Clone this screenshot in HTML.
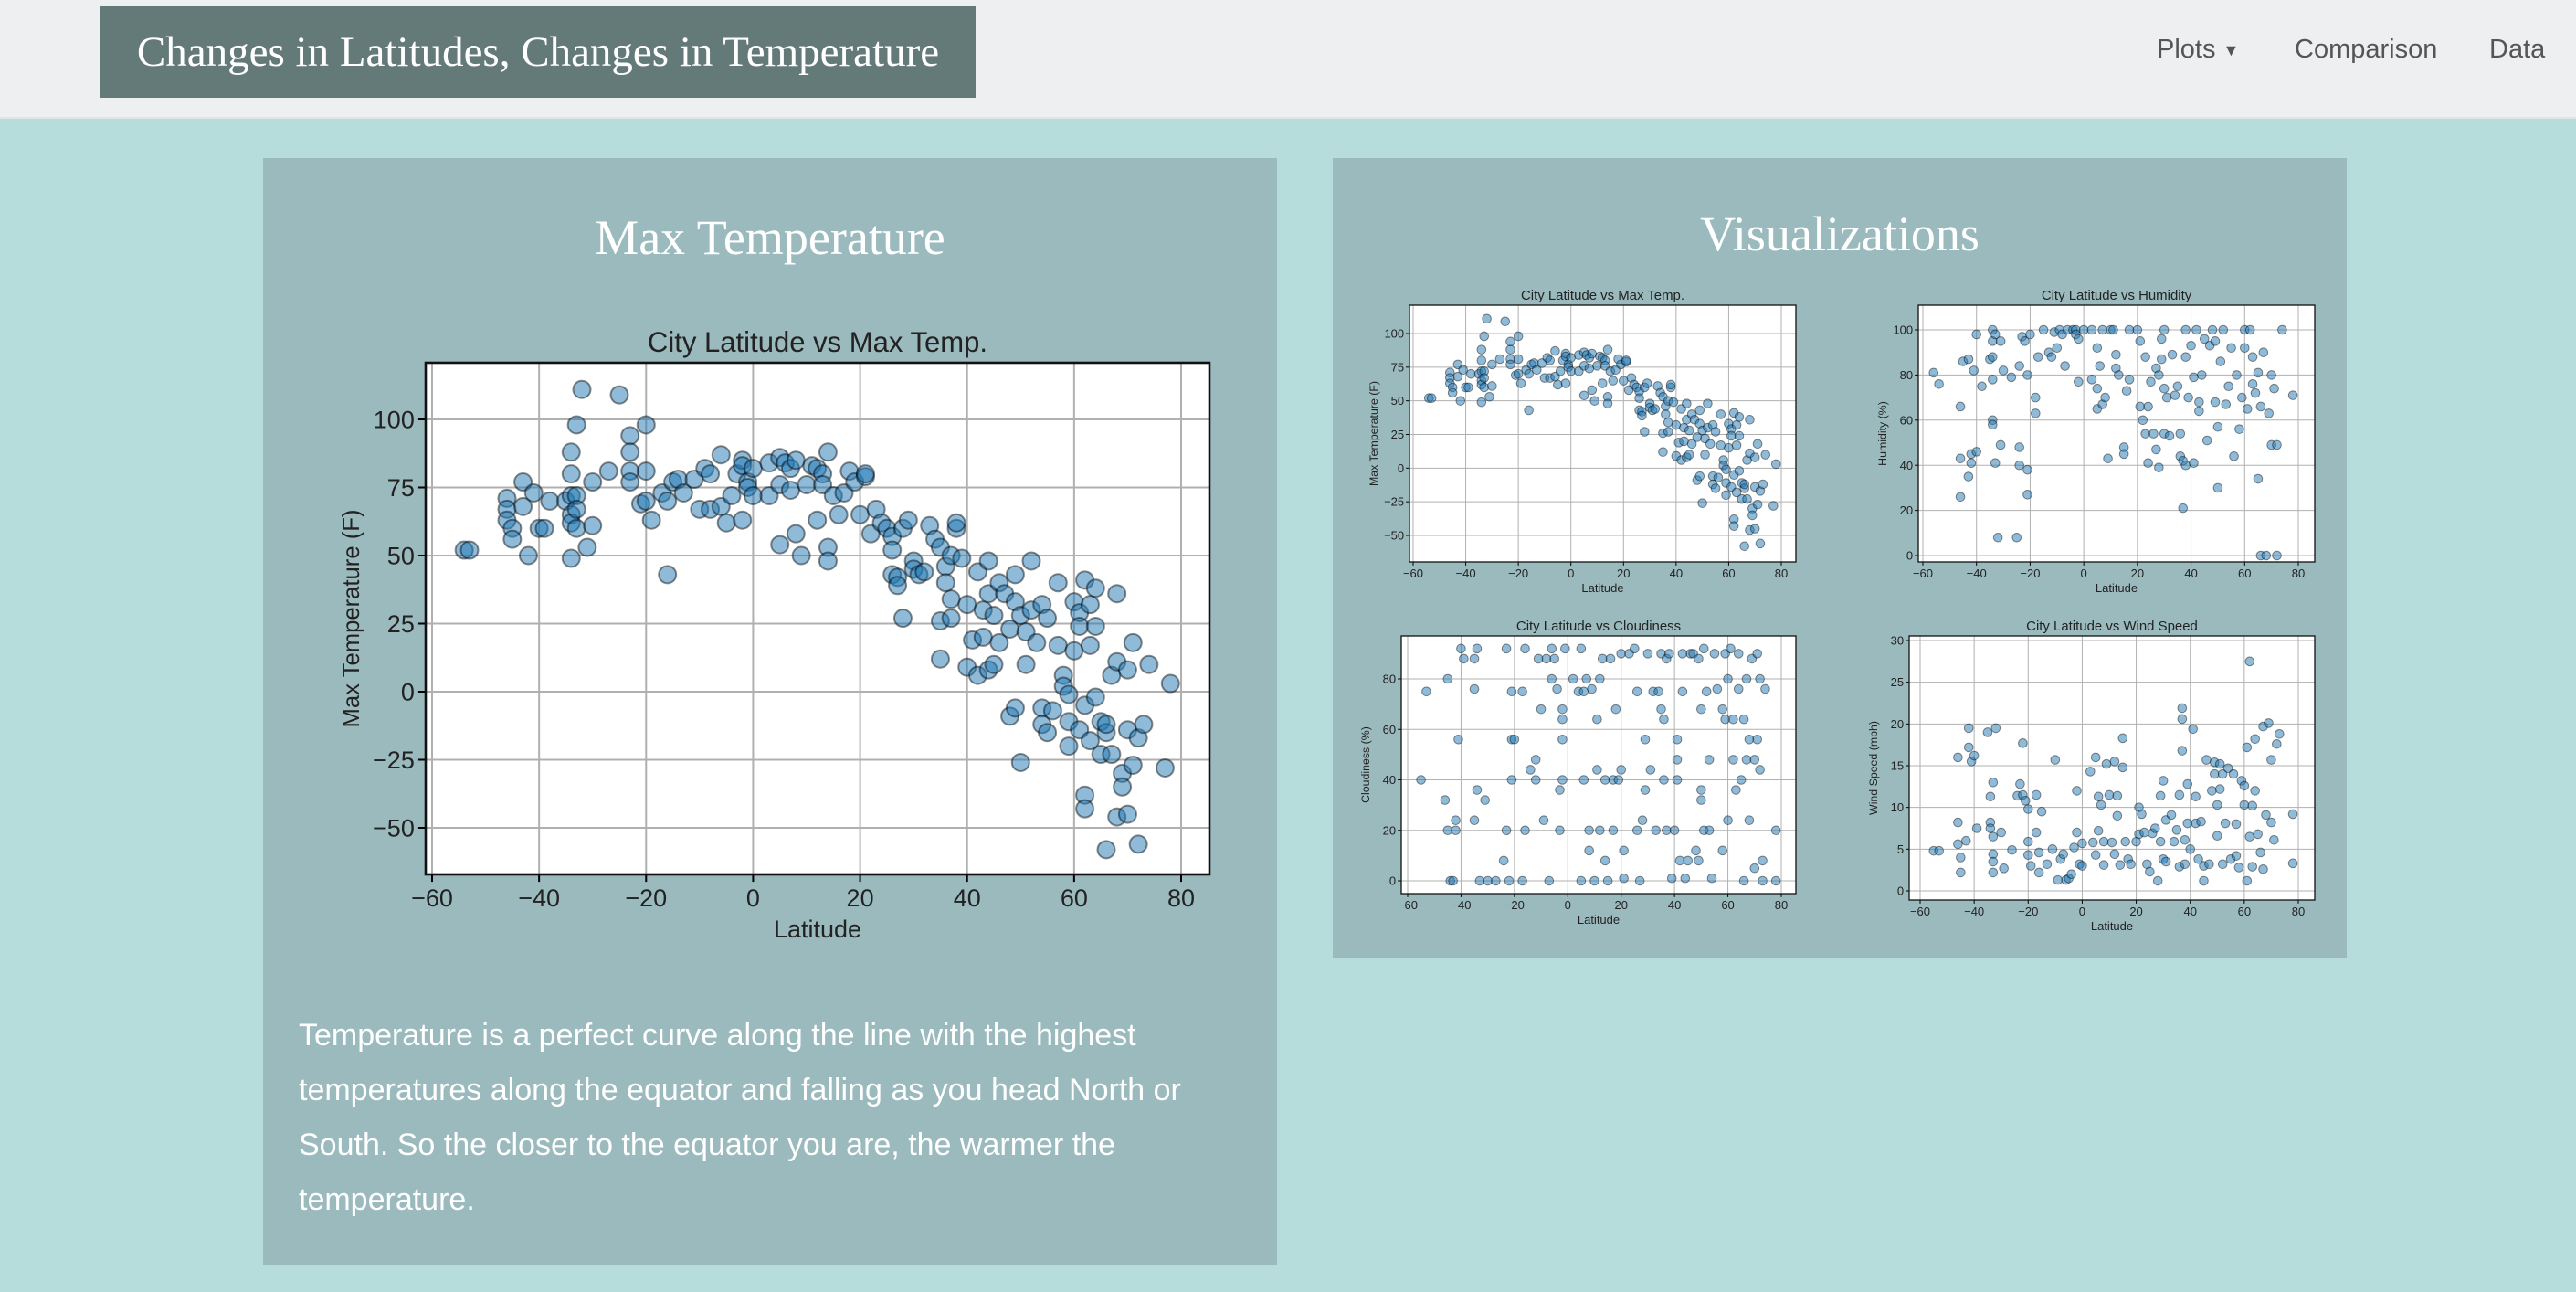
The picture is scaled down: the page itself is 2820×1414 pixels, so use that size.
<!DOCTYPE html>
<html><head><meta charset="utf-8">
<style>
*{margin:0;padding:0;box-sizing:border-box}
body{width:2820px;height:1414px;background:#b6dcdc;position:relative;overflow:hidden;font-family:"Liberation Sans",sans-serif}
#nav{position:absolute;left:0;top:0;width:2820px;height:130px;background:#eeeff1;border-bottom:2px solid #dfe3e4}
#brand{position:absolute;left:110px;top:7px;width:958px;height:100px;background:#647a78;color:#fff;font-family:"Liberation Serif",serif;font-size:47px;line-height:100px;text-align:center}
.nl{position:absolute;top:38px;font-size:29px;color:#555}
.panel{position:absolute;background:#9bbabe}
.ph{position:absolute;color:#fff;font-family:"Liberation Serif",serif;font-size:54px;text-align:center;width:100%}
#para{position:absolute;left:39px;top:930px;width:1040px;color:#fff;font-size:34px;line-height:60px}
svg{position:absolute;left:0;top:0}
</style></head><body>
<div id="nav">
<div id="brand">Changes in Latitudes, Changes in Temperature</div>
<div class="nl" style="left:2361px">Plots <span style="font-size:18px;vertical-align:middle">▼</span></div>
<div class="nl" style="left:2512px">Comparison</div>
<div class="nl" style="left:2725px">Data</div>
</div>
<div class="panel" style="left:288px;top:173px;width:1110px;height:1211px">
<div class="ph" style="top:56px">Max Temperature</div>
<div id="para">Temperature is a perfect curve along the line with the highest temperatures along the equator and falling as you head North or South. So the closer to the equator you are, the warmer the temperature.</div>
</div>
<div class="panel" style="left:1459px;top:173px;width:1110px;height:876px">
<div class="ph" style="top:52px">Visualizations</div>
</div>
<svg id="svg" width="2820" height="1414" xmlns="http://www.w3.org/2000/svg"></svg>
<script>
const tempData=[[-54,52],[-53,52],[-46,71],[-46,67],[-46,63],[-45,60],[-45,56],[-43,77],[-43,68],[-42,50],[-41,73],[-40,60],[-39,60],[-38,70],[-35,70],[-34,88],[-34,80],[-34,72],[-34,65],[-34,62],[-34,49],[-33,72],[-33,67],[-33,60],[-33,98],[-32,111],[-31,53],[-30,77],[-30,61],[-27,81],[-25,109],[-23,94],[-23,88],[-23,81],[-23,77],[-21,69],[-20,98],[-20,81],[-20,70],[-19,63],[-17,73],[-16,70],[-16,43],[-15,77],[-14,78],[-13,73],[-11,78],[-10,67],[-9,82],[-8,80],[-8,67],[-6,68],[-6,87],[-5,62],[-4,72],[-3,80],[-2,85],[-2,83],[-2,63],[-1,77],[-1,75],[0,82],[0,72],[3,84],[3,72],[5,54],[5,86],[5,76],[6,84],[7,82],[7,74],[8,85],[8,58],[9,50],[10,76],[11,83],[12,82],[12,63],[13,80],[13,76],[14,88],[14,53],[14,48],[15,72],[16,65],[17,73],[18,81],[19,77],[20,65],[21,79],[21,80],[22,58],[23,67],[24,62],[25,60],[26,57],[26,52],[26,43],[27,42],[27,39],[28,27],[28,60],[29,63],[30,48],[30,45],[31,43],[32,44],[33,61],[34,56],[35,53],[35,26],[35,12],[36,46],[36,40],[37,50],[37,34],[37,27],[38,60],[38,62],[39,49],[40,32],[40,9],[41,19],[42,44],[42,6],[43,30],[43,20],[44,48],[44,36],[44,8],[45,28],[45,10],[46,40],[46,18],[47,36],[48,23],[48,-9],[49,43],[49,33],[49,-6],[50,-26],[50,28],[51,10],[51,22],[52,48],[52,30],[53,18],[54,32],[54,-6],[54,-12],[55,27],[55,-15],[56,-7],[57,40],[57,17],[58,6],[58,2],[59,-11],[59,-20],[59,-1],[60,33],[60,15],[61,-14],[61,29],[61,24],[62,41],[62,-5],[62,-38],[62,-43],[63,-18],[63,32],[63,17],[64,38],[64,-2],[64,24],[65,-11],[65,-23],[66,-15],[66,-12],[66,-58],[67,6],[67,-23],[68,36],[68,-46],[68,11],[69,-30],[69,-35],[70,-14],[70,8],[70,-45],[71,-27],[71,18],[72,-17],[72,-56],[73,-12],[74,10],[77,-28],[78,3]];
const humData=[[-56,81],[-54,76],[-46,66],[-46,43],[-46,26],[-45,86],[-43,87],[-43,35],[-42,45],[-42,41],[-41,82],[-40,98],[-40,46],[-38,75],[-35,87],[-34,100],[-34,95],[-34,88],[-34,78],[-34,60],[-34,58],[-33,98],[-33,41],[-32,8],[-31,95],[-31,49],[-30,82],[-27,79],[-25,8],[-24,84],[-24,48],[-24,40],[-23,97],[-22,95],[-21,80],[-21,27],[-21,38],[-20,98],[-18,63],[-18,70],[-17,88],[-15,100],[-13,90],[-12,88],[-11,99],[-10,92],[-9,100],[-8,98],[-7,84],[-6,100],[-4,100],[-3,100],[-3,98],[-2,77],[-2,96],[0,100],[3,100],[3,78],[5,92],[5,74],[5,65],[6,84],[7,100],[7,67],[8,70],[9,43],[10,100],[11,100],[12,83],[12,89],[13,80],[15,48],[15,45],[16,73],[17,100],[17,78],[20,100],[21,95],[21,66],[22,60],[23,88],[23,54],[24,66],[24,41],[25,77],[26,54],[27,83],[27,47],[28,39],[28,80],[29,96],[29,87],[30,100],[30,54],[30,74],[31,70],[32,53],[33,89],[34,71],[35,75],[36,54],[36,44],[37,42],[37,21],[38,100],[38,88],[38,40],[39,70],[40,93],[41,41],[41,79],[42,100],[43,64],[43,68],[44,80],[45,96],[46,51],[47,93],[48,100],[49,68],[49,95],[50,57],[50,30],[51,86],[52,100],[53,67],[54,75],[55,92],[56,44],[57,80],[58,56],[59,70],[60,100],[60,92],[61,65],[62,100],[63,88],[63,76],[64,72],[65,81],[65,34],[66,66],[66,0],[67,90],[68,0],[69,63],[70,80],[70,49],[71,74],[72,49],[72,0],[74,100],[78,71]];
const cloudData=[[-55,40],[-53,75],[-46,32],[-45,80],[-45,20],[-44,0],[-43,0],[-42,20],[-42,24],[-41,56],[-40,92],[-39,88],[-35,88],[-35,76],[-35,24],[-34,92],[-34,36],[-33,0],[-31,32],[-30,0],[-27,0],[-24,8],[-23,92],[-23,20],[-22,0],[-21,40],[-21,75],[-21,56],[-20,56],[-17,75],[-17,0],[-16,92],[-16,20],[-14,44],[-12,48],[-12,40],[-11,88],[-10,68],[-9,24],[-8,88],[-7,0],[-6,80],[-6,92],[-5,88],[-4,76],[-3,36],[-3,20],[-2,68],[-2,64],[-2,56],[-2,40],[-1,92],[2,80],[4,75],[5,0],[5,92],[6,75],[6,40],[7,80],[8,20],[8,12],[9,76],[10,0],[11,64],[11,44],[12,80],[12,20],[13,88],[14,8],[14,40],[15,0],[16,88],[17,20],[17,40],[18,68],[19,40],[20,44],[20,90],[21,12],[21,1],[23,90],[25,92],[26,75],[26,20],[27,0],[28,24],[29,56],[29,36],[30,90],[31,44],[32,75],[33,20],[34,75],[35,68],[35,90],[36,40],[36,64],[37,20],[37,88],[38,90],[39,1],[40,20],[41,48],[41,56],[41,40],[42,8],[43,75],[43,90],[44,1],[45,8],[46,90],[47,90],[48,12],[49,88],[49,8],[50,68],[50,36],[50,32],[51,92],[51,20],[52,75],[53,20],[53,48],[54,1],[55,90],[56,76],[58,68],[58,12],[59,64],[59,90],[60,80],[60,24],[61,92],[62,48],[62,64],[63,36],[64,90],[64,76],[65,40],[66,64],[66,0],[67,80],[67,48],[68,56],[68,24],[69,88],[70,48],[70,5],[71,56],[71,90],[72,80],[72,44],[73,0],[73,8],[74,76],[78,0],[78,20]];
const windData=[[-55,4.8],[-53,4.8],[-46,16],[-46,8.2],[-46,5.6],[-45,4],[-45,2.2],[-43,6],[-42,17.2],[-42,19.5],[-41,15.5],[-40,16.2],[-39,7.5],[-35,19],[-34,11.3],[-34,8.2],[-34,7.5],[-33,13],[-33,6.5],[-33,4.4],[-33,3.5],[-33,2.2],[-32,19.5],[-30,7],[-29,2.7],[-26,4.9],[-24,11.4],[-23,12.8],[-22,17.7],[-22,11.5],[-21,10.8],[-20,9.8],[-20,5.9],[-20,4.3],[-19,3],[-17,7],[-17,11.5],[-16,2.2],[-16,4.6],[-15,9.5],[-13,3.2],[-11,5],[-10,15.7],[-9,1.3],[-8,3.8],[-7,4.4],[-6,1.3],[-5,1.5],[-4,2],[-3,5.2],[-2,7],[-2,12],[-1,3.2],[0,5.7],[0,3],[3,14.3],[4,5.8],[5,16],[5,4.3],[6,11.3],[6,7.2],[7,10.3],[8,5.9],[8,3.1],[9,15.2],[10,11.5],[11,5.8],[12,15.5],[12,4.4],[13,11.4],[13,9],[14,3.1],[15,18.3],[15,14.8],[16,5.9],[17,3.8],[18,3.2],[20,5.9],[21,10],[21,6.8],[22,9.2],[23,7],[24,3.2],[25,2.3],[26,6.9],[27,7.5],[28,1.2],[29,11.4],[29,5.9],[30,13.2],[30,3.8],[31,8.5],[31,3.5],[33,9.1],[34,5.9],[35,7.3],[36,11.5],[36,2.9],[37,21.9],[37,20.6],[37,16.8],[38,6.1],[38,3.2],[39,8.1],[39,12.8],[40,5],[41,19.4],[42,11.3],[42,8.1],[43,3.8],[44,8.3],[45,3],[45,1.2],[46,15.7],[47,3.2],[48,12],[49,15.4],[49,14],[50,10.3],[50,6.6],[51,15.2],[51,12.2],[52,3.2],[52,14],[53,8.1],[54,14.7],[55,3.8],[56,14],[57,8],[57,4.2],[58,2.8],[59,13.2],[60,12.6],[60,10.3],[61,17.2],[61,1.2],[62,6.5],[62,27.5],[63,10.2],[63,2.9],[64,18.2],[64,12],[65,6.8],[66,4.6],[67,19.7],[67,2.6],[68,9.1],[69,20.1],[70,15.7],[70,8.2],[71,6.1],[72,17.6],[73,18.8],[78,9.2],[78,3.3]];
const latTicks=[-60,-40,-20,0,20,40,60,80];
const tempTicks=[-50,-25,0,25,50,75,100];
const humTicks=[0,20,40,60,80,100];
const cloudTicks=[0,20,40,60,80];
const windTicks=[0,5,10,15,20,25,30];

const svg=document.getElementById('svg');
const NS='http://www.w3.org/2000/svg';
function mk(tag,attrs,parent){const e=document.createElementNS(NS,tag);for(const k in attrs)e.setAttribute(k,attrs[k]);(parent||svg).appendChild(e);return e;}
function txt(s,attrs,parent){const e=mk('text',attrs,parent);e.textContent=s;return e;}

function chart(o){
  const g=mk('g',{});
  
  
  const sx=v=>o.x0px+(v-o.x0)*(o.x1px-o.x0px)/(o.x1-o.x0);
  const sy=v=>o.y0px+(v-o.y0)*(o.y1px-o.y0px)/(o.y1-o.y0);
  mk('rect',{x:o.L,y:o.T,width:o.R-o.L,height:o.B-o.T,fill:'#fff'},g);
  const f=o.fs;
  o.xt.forEach(t=>{const x=sx(t);
    mk('line',{x1:x,x2:x,y1:o.T,y2:o.B,stroke:'#b0b0b0','stroke-width':o.gw},g);
    mk('line',{x1:x,x2:x,y1:o.B,y2:o.B+f*0.3,stroke:'#000','stroke-width':o.gw},g);
    const l=txt(String(t).replace('-','\u2212'),{x:x,y:o.B+f*1.3,'font-size':f,'text-anchor':'middle',fill:'#222'},g);
    
    
  });
  o.yt.forEach(t=>{const y=sy(t);
    mk('line',{x1:o.L,x2:o.R,y1:y,y2:y,stroke:'#b0b0b0','stroke-width':o.gw},g);
    mk('line',{x1:o.L-f*0.3,x2:o.L,y1:y,y2:y,stroke:'#000','stroke-width':o.gw},g);
    const l=txt(String(t).replace('-','\u2212'),{x:o.L-f*0.45,y:y+f*0.35,'font-size':f,'text-anchor':'end',fill:'#222'},g);
    
    
  });
  o.data.forEach(d=>{
    const c=mk('circle',{cx:sx(d[0]),cy:sy(d[1]),r:o.r,fill:'rgba(31,119,180,0.5)',stroke:'rgba(0,0,0,0.45)','stroke-width':o.gw},g);
    
    
  });
  mk('rect',{x:o.L,y:o.T,width:o.R-o.L,height:o.B-o.T,fill:'none',stroke:'#111','stroke-width':o.gw*1.3},g);
  const t=txt(o.title,{x:(o.L+o.R)/2,y:o.T-f*0.45,'font-size':f*1.15,'text-anchor':'middle',fill:'#222'},g);
  
  
  const xl=txt('Latitude',{x:(o.L+o.R)/2,y:o.B+f*2.55,'font-size':f,'text-anchor':'middle',fill:'#222'},g);
  
  
  const yx=o.L-f*2.7,yy=(o.T+o.B)/2;
  const yl=txt(o.ylab,{x:yx,y:yy,'font-size':f*0.95,'text-anchor':'middle',fill:'#222',transform:`rotate(-90 ${yx} ${yy})`},g);
  
  
}
chart({name:'main-temp-chart',title:'City Latitude vs Max Temp.',ylab:'Max Temperature (F)',data:tempData,xt:latTicks,yt:tempTicks,
 L:466,T:397,R:1324,B:957,x0:-60,x1:80,x0px:473,x1px:1293,y0:100,y1:-50,y0px:459,y1px:906,fs:27,r:9.5,gw:2});
chart({name:'small-temp-chart',title:'City Latitude vs Max Temp.',ylab:'Max Temperature (F)',data:tempData,xt:latTicks,yt:tempTicks,
 L:1543,T:334,R:1966,B:615,x0:-60,x1:80,x0px:1547,x1px:1950,y0:100,y1:-50,y0px:365,y1px:586,fs:13,r:4.8,gw:1});
chart({name:'humidity-chart',title:'City Latitude vs Humidity',ylab:'Humidity (%)',data:humData,xt:latTicks,yt:humTicks,
 L:2100,T:334,R:2534,B:615,x0:-60,x1:80,x0px:2105,x1px:2516,y0:100,y1:0,y0px:361,y1px:608,fs:13,r:4.8,gw:1});
chart({name:'cloudiness-chart',title:'City Latitude vs Cloudiness',ylab:'Cloudiness (%)',data:cloudData,xt:latTicks,yt:cloudTicks,
 L:1534,T:696,R:1966,B:978,x0:-60,x1:80,x0px:1541,x1px:1950,y0:80,y1:0,y0px:743,y1px:964,fs:13,r:4.8,gw:1});
chart({name:'wind-speed-chart',title:'City Latitude vs Wind Speed',ylab:'Wind Speed (mph)',data:windData,xt:latTicks,yt:windTicks,
 L:2090,T:696,R:2534,B:985,x0:-60,x1:80,x0px:2102,x1px:2516,y0:30,y1:0,y0px:701,y1px:975,fs:13,r:4.8,gw:1});
</script>
</body></html>
